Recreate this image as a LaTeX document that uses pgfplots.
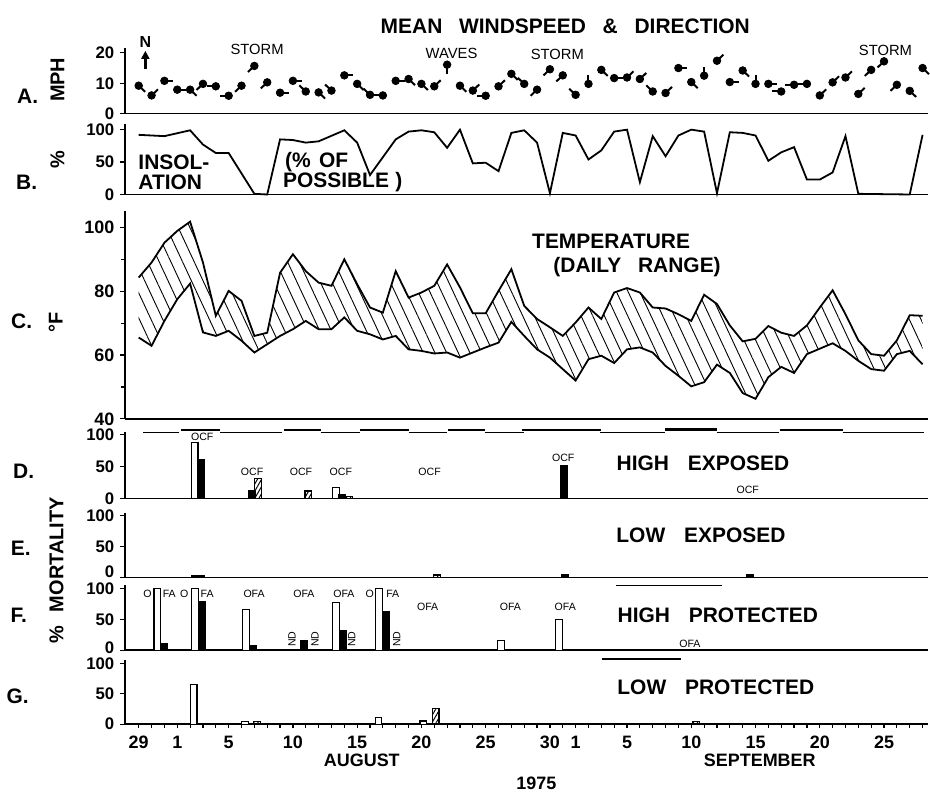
\documentclass[border=0pt]{standalone}
\usepackage{fontspec}
\setmainfont{Liberation Sans}
\usepackage{pgfplots}
\pgfplotsset{compat=1.18}
\usepackage{pgfplotstable}
\usepgfplotslibrary{fillbetween}
\usetikzlibrary{patterns,patterns.meta,arrows.meta}

\newcommand{\lab}{\bfseries\fontsize{10.5}{12}\selectfont}
\newcommand{\mdl}{\fontsize{7.4}{8}\selectfont}
\newcommand{\sml}{\fontsize{5.3}{6}\selectfont}
\newcommand{\tkl}{\bfseries\fontsize{8.4}{10}\selectfont}
\newcommand{\bxl}{\bfseries\fontsize{9}{10}\selectfont}

% wind: day, speed (mph), tail u, tail v
\pgfplotstableread{
d s u v
0 9.2 0.5 -2.0
1 6.0 0.5 2.0
2 10.8 0.7 0
3 7.9 0.7 0
4 7.9 0.5 -2.0
5 9.8 -0.5 -2.0
6 9.0 -0.7 0
7 5.9 -0.7 0
8 9.2 -0.5 -2.0
9 15.7 -0.5 -2.0
10 10.3 -0.5 -2.0
11 6.9 0.7 0
12 10.8 0.7 0
13 7.3 -0.5 2.0
14 7.0 0.5 -2.0
15 7.6 -0.5 2.0
16 12.6 0.7 0
17 9.8 0.5 -2.0
18 6.2 -0.5 2.0
19 6.0 -0.7 0
20 10.8 0.7 0
21 11.4 0.5 -2.0
22 9.8 0.5 -2.0
23 9.0 0.5 2.0
24 16.1 0 -2.9
25 9.2 0.5 -2.0
26 7.6 0.5 2.0
27 5.9 -0.7 0
28 9.0 0.5 2.0
29 13.1 0.5 -2.0
30 9.8 -0.5 2.0
31 7.9 -0.5 -2.0
32 14.6 -0.5 -2.0
33 12.6 -0.5 -2.0
34 6.2 -0.5 2.0
35 9.8 0 2.9
36 14.4 0.5 -2.0
37 11.7 0.7 0
38 11.9 0.5 2.0
39 11.4 0.5 2.0
40 7.3 -0.5 2.0
41 6.8 0.5 2.0
42 15.0 0.7 0
43 10.4 0.5 -2.0
44 12.5 0 2.9
45 17.4 0.5 2.0
46 10.4 0.7 0
47 14.2 0.5 -2.0
48 9.8 0 2.9
49 9.8 0.7 0
50 7.3 -0.7 0
51 9.5 -0.7 0
52 9.8 -0.7 0
53 6.0 0.5 2.0
54 10.3 0.5 2.0
55 11.9 0.5 2.0
56 6.5 0.5 2.0
57 14.4 -0.5 -2.0
58 17.2 -0.5 -2.0
59 9.5 -0.5 -2.0
60 7.5 0.5 -2.0
61 15.0 0.5 -2.0
}\wind

% insolation (% of possible)
\pgfplotstableread{
d p
0 92
1 91
2 90
4 99
5 77
6 64
7 64
9 1
10 0
11 85
12 84
13 80
14 82
16 99
17 80
18 30
20 85
21 97
22 99
23 96
24 72
25 100
26 48
27 49
28 36
29 95
30 99
31 80
32 2
33 95
34 91
35 54
36 68
37 97
38 100
39 19
40 90
41 59
42 91
43 100
44 97
45 2
46 96
47 95
48 91
49 52
50 65
51 73
52 23
53 23
54 34
55 90
56 1
60 0
61 92
}\insol

% temperature daily range
\pgfplotstableread{
d hi lo
0 84.3 65.5
1 89.0 62.9
2 95.2 70.7
3 98.9 77.5
4 101.8 82.4
5 89.0 67.1
6 72.3 66.0
7 80.1 67.6
8 77.0 64.5
9 66.0 60.8
10 67.0 63.4
11 85.8 66.0
12 91.6 68.1
13 86.3 70.7
14 82.7 68.1
15 81.7 68.1
16 90.0 71.8
17 82.2 67.6
18 74.9 66.5
19 73.3 64.9
20 86.3 66.0
21 78.0 61.8
22 79.6 61.3
23 81.7 60.5
24 88.4 60.8
25 81.2 59.2
26 73.1 60.8
27 73.1 62.4
28 80.1 63.9
29 86.9 70.4
30 75.4 66.0
31 71.3 61.8
32 68.7 59.2
33 66.0 55.6
34 70.2 52.0
35 74.9 58.7
36 71.3 59.8
37 79.6 57.5
38 81.0 61.8
39 79.6 62.4
40 74.9 60.8
41 74.6 56.6
42 72.8 53.5
43 70.7 50.2
44 78.9 51.5
45 76.0 57.0
46 69.3 54.4
47 64.3 48.1
48 65.1 46.3
49 69.1 53.1
50 67.0 56.3
51 66.0 54.4
52 69.3 60.3
53 74.9 62.0
54 80.3 63.7
55 72.8 61.3
56 64.6 58.2
57 60.3 55.6
58 59.8 55.1
59 64.6 60.3
60 72.5 61.3
61 72.3 57.1
}\temp

\pgfplotsset{
  panel/.style={
    scale only axis, width=402.3pt, xmin=-1.05, xmax=61.4,
    axis x line*=bottom, axis y line*=left,
    xtick=\empty, minor xtick={0,...,61},
    tick align=outside, major tick length=2.5pt, minor tick length=2pt,
    tick style={black, line width=0.6pt},
    axis line style={black, line width=0.8pt},
    clip=false, anchor=south west,
    ticklabel style={font=\tkl},
    yticklabel style={inner sep=0.5pt, xshift=-2.3pt},
    /pgf/number format/assume math mode=true,
  },
  midpanel/.style={
    ytick={50,100}, extra y ticks={0},
    extra y tick style={yticklabel style={yshift=#1}},
  },
  wbar/.style={ybar, bar width=3.4pt, bar shift=0pt, fill=white, draw=black, line width=0.6pt},
  bbar/.style={ybar, bar width=3.4pt, bar shift=0pt, fill=black, draw=black, line width=0.6pt},
  hbar/.style={ybar, bar width=3.4pt, bar shift=0pt, draw=black, line width=0.6pt,
    pattern={Lines[angle=60,distance=1.8pt,line width=0.5pt]}},
}

\begin{document}
\begin{tikzpicture}
\path (0,0) rectangle (465pt,397pt);

% ---------- A: wind ----------
\begin{axis}[panel, at={(62.4pt,340pt)}, height=32.8pt, ymin=0, ymax=21.5, ytick={0,10,20}]
\addplot[black, line width=1pt, quiver={u=\thisrow{u}, v=\thisrow{v}}] table[x=d,y=s] {\wind};
\addplot[black, only marks, mark=*, mark size=1.9pt] table[x=d,y=s] {\wind};
\end{axis}

% ---------- B: insolation ----------
\begin{axis}[panel, at={(62.4pt,299.5pt)}, height=35.1pt, ymin=0, ymax=108, ytick={0,50,100}]
\addplot[black, line width=0.9pt] table[x=d,y=p] {\insol};
\end{axis}

% ---------- C: temperature ----------
\begin{axis}[panel, at={(62.4pt,187pt)}, height=104pt, ymin=40, ymax=105,
  ytick={40,60,80,100}, minor ytick={50,70,90}, ticklabel style={font=\bxl}]
\addplot[black, line width=0.9pt, name path=up] table[x=d,y=hi] {\temp};
\addplot[black, line width=0.9pt, name path=lo] table[x=d,y=lo] {\temp};
\addplot[draw=none, pattern={Lines[angle=-65,distance=5.3pt,line width=0.45pt]}] fill between[of=up and lo];
\end{axis}

% ---------- D: high exposed ----------
\begin{axis}[panel, at={(62.4pt,147pt)}, height=33.6pt, ymin=0, ymax=105, ytick={0,50,100}]
\addplot[wbar] coordinates {(4.35,88.5) (15.35,17)};
\addplot[bbar] coordinates {(4.85,61.5) (8.8,13) (15.85,6) (33.1,52)};
\addplot[hbar] coordinates {(9.3,31) (13.2,12) (16.35,4)};
\end{axis}

% ---------- E: low exposed ----------
\begin{axis}[panel, midpanel=2.8pt, at={(62.4pt,107.5pt)}, height=32.55pt, ymin=0, ymax=105]
\addplot[bbar] coordinates {(4.35,3.5) (4.85,3.5) (33.2,4) (47.6,4)};
\addplot[hbar] coordinates {(23.2,4)};
\end{axis}

% ---------- F: high protected ----------
\begin{axis}[panel, midpanel=1.5pt, at={(62.4pt,71pt)}, height=32.55pt, ymin=0, ymax=105]
\addplot[wbar] coordinates {(1.45,100) (4.37,100) (8.36,66.6) (15.37,77) (18.7,100) (28.2,16) (32.7,50)};
\addplot[bbar] coordinates {(2.0,11) (4.89,78.5) (8.88,7) (12.83,15.6) (15.9,31.7) (19.28,62.4)};
\end{axis}

% ---------- G: low protected ----------
\begin{axis}[panel, at={(62.4pt,34pt)}, height=32pt, ymin=0, ymax=105, ytick={0,50,100},
  xtick={0,3,7,12,17,22,27,32,34,38,43,48,53,58},
  xticklabels={29,1,5,10,15,20,25,30,1,5,10,15,20,25},
  xticklabel style={font=\bxl},
  major x tick style={draw=none}]
\addplot[wbar] coordinates {(4.27,65.6) (8.28,4) (18.66,11) (22.15,5)};
\addplot[hbar] coordinates {(9.2,4) (23.1,26) (43.4,4)};
\end{axis}

% ---------- annotations (pixel frame) ----------
\begin{scope}[shift={(0pt,397pt)}, x=0.5pt, y=-0.5pt]
\node[font=\lab] at (566,26) {MEAN\hspace{0.8em}WINDSPEED\hspace{0.8em}\&\hspace{0.8em}DIRECTION};
\node[font=\bfseries\fontsize{8}{9}\selectfont] at (145,42) {N};
\draw[line width=1.3pt, -{Triangle[length=4pt,width=4pt]}] (145,69) -- (145,51);
\node[font=\mdl] at (257,50) {STORM};
\node[font=\mdl] at (452,54) {WAVES};
\node[font=\mdl] at (558,55) {STORM};
\node[font=\mdl] at (887,51) {STORM};

\node[font=\lab] at (27,97) {A.};
\node[font=\bfseries\fontsize{10}{12}\selectfont, rotate=90] at (57,80) {MPH};
\node[font=\lab] at (26,183) {B.};
\node[font=\bfseries\fontsize{10}{12}\selectfont, rotate=90] at (57,160) {\%};
\node[font=\lab, anchor=west] at (131,163) {INSOL-};
\node[font=\lab, anchor=west] at (131,183) {ATION};
\node[font=\lab, anchor=west] at (278,163) {(\%\hspace{0.4em}OF};
\node[font=\lab, anchor=west] at (276,183) {POSSIBLE\hspace{0.3em})};

\node[font=\lab] at (21,322) {C.};
\node[font=\bfseries\fontsize{10}{12}\selectfont, rotate=90] at (55,323) {°F};
\node[font=\lab] at (612,242) {TEMPERATURE};
\node[font=\lab] at (638,268) {(DAILY\hspace{0.8em}RANGE)};

\node[font=\lab] at (23,473) {D.};
\node[font=\lab] at (20,550) {E.};
\node[font=\lab] at (18,617) {F.};
\node[font=\lab] at (17,698) {G.};
\node[font=\bfseries\fontsize{10}{12}\selectfont, rotate=90] at (56,572) {\%\hspace{0.7em}MORTALITY};

\node[font=\lab] at (704,465) {HIGH\hspace{0.9em}EXPOSED};
\node[font=\lab] at (702,537) {LOW\hspace{0.9em}EXPOSED};
\node[font=\lab] at (719,617) {HIGH\hspace{0.9em}PROTECTED};
\node[font=\lab] at (717,689) {LOW\hspace{0.9em}PROTECTED};

% small treatment labels
\foreach \xx/\yy in {202/438,252/473,301/473,341/473,430/473,564/459,749/491}
  \node[font=\sml] at (\xx,\yy) {OCF};
\foreach \xx/\yy in {254/595,304/595,344/595,428/608,511/608,566/608,691/646}
  \node[font=\sml] at (\xx,\yy) {OFA};
\foreach \xx in {147,184,370}
  \node[font=\sml] at (\xx,595) {O};
\foreach \xx in {169,207,393}
  \node[font=\sml] at (\xx,595) {FA};
\foreach \xx in {292,315,352,397}
  \node[font=\sml, rotate=90] at (\xx,641) {ND};

% strip above panel D
\foreach \a/\b in {143/179,220/282,321/360,409/447,486/525,601/666,718/780,844/926}
  \draw[line width=0.7pt] (\a,433.5) -- (\b,433.5);
\foreach \a/\b in {181/220,284/321,360/409,448/486,523/602,781/844}
  \draw[line width=0.7pt] (\a,431) -- (\b,431);
\draw[line width=1.4pt] (666,431) -- (718,431);
\draw[line width=0.8pt] (617,587) -- (723,587);
\draw[line width=0.8pt] (603,661) -- (682,661);

\node[font=\bxl] at (362,762) {AUGUST};
\node[font=\bxl] at (761,762) {SEPTEMBER};
\node[font=\bxl] at (537,785) {1975};
\end{scope}
\end{tikzpicture}
\end{document}
